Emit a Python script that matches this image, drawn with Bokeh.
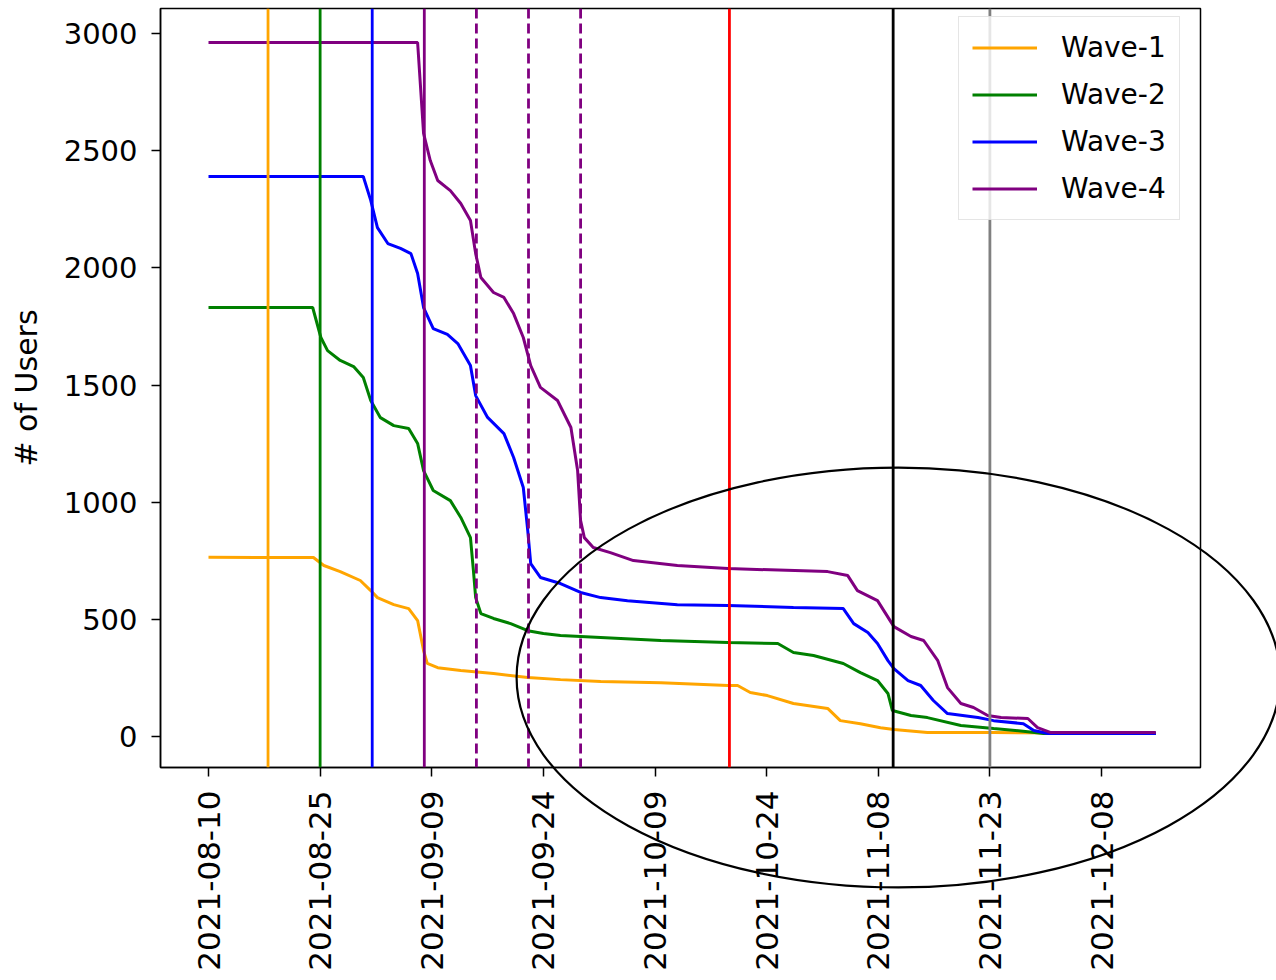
import math
import numpy as np
import pandas as pd
from bokeh.plotting import figure
from bokeh.layouts import column
from bokeh.models import (Range1d, FixedTicker, DatetimeTickFormatter, Span,
                          Legend, LegendItem)
from bokeh.embed import file_html
from bokeh.resources import INLINE

# ---------------- data ----------------
start_date = "2021-08-10"

w1_days = [0, 14.1, 15.5, 17.7, 20.4, 21.8, 22.7, 24.9, 26.9, 28.1, 28.9, 29.4, 30.8, 33.9,
           38.3, 42.9, 47.3, 52.7, 60.8, 69.8, 71.1, 72.8, 75.1, 78.6, 83.2, 84.9, 87.6,
           90.3, 92.1, 96.6, 105.5, 127.3]
w1_vals = [765, 764, 730, 704, 666, 623, 593, 563, 546, 495, 367, 312, 294, 282,
           269, 252, 243, 235, 230, 218, 218, 188, 175, 141, 120, 68, 55,
           38, 30, 17, 17, 13]

w2_days = [0, 14.0, 15.1, 16.0, 17.7, 19.5, 20.8, 21.8, 23.1, 24.9, 26.9, 28.1, 28.9, 30.2,
           32.5, 33.9, 35.2, 35.6, 35.9, 36.6, 38.3, 40.6, 42.9, 45.0, 47.3, 52.7, 60.8,
           69.8, 76.5, 78.6, 81.3, 85.3, 87.6, 89.9, 91.3, 91.9, 94.4, 96.6, 101.1, 105.5,
           110.1, 112.2, 127.3]
w2_vals = [1831, 1831, 1703, 1647, 1605, 1579, 1532, 1434, 1361, 1327, 1315, 1251, 1135, 1050,
           1007, 935, 849, 708, 593, 525, 504, 482, 452, 440, 431, 423, 410,
           401, 397, 359, 346, 312, 273, 239, 184, 111, 90, 81, 47, 34,
           21, 13, 13]

w3_days = [0, 20.8, 21.8, 22.7, 24.1, 25.8, 27.2, 28.1, 28.9, 30.2, 32.1, 33.5, 35.2, 35.9,
           37.5, 39.7, 41.0, 42.3, 42.9, 43.3, 44.6, 47.3, 50.0, 52.7, 56.3, 63.0, 69.8,
           78.6, 85.3, 86.7, 88.6, 89.9, 91.3, 92.1, 94.0, 95.7, 97.4, 99.3, 103.4, 105.5,
           109.5, 110.9, 112.8, 127.3]
w3_vals = [2390, 2390, 2288, 2172, 2104, 2083, 2061, 1976, 1831, 1741, 1716, 1677, 1583, 1455,
           1362, 1293, 1191, 1063, 879, 738, 679, 653, 615, 593, 580, 563, 559,
           551, 546, 482, 444, 397, 324, 290, 239, 218, 154, 98, 81, 68,
           55, 26, 13, 13]

w4_days = [0, 28.1, 28.9, 29.8, 30.8, 32.5, 33.9, 35.2, 35.9, 36.6, 38.3, 39.7, 41.0, 42.3,
           43.3, 44.6, 46.9, 48.7, 49.6, 50.0, 50.5, 51.7, 54.0, 57.1, 63.0, 69.8, 83.2,
           85.9, 87.2, 89.9, 92.1, 94.4, 96.1, 98.0, 99.3, 101.1, 102.8, 104.7, 106.5,
           110.1, 111.4, 113.2, 127.3]
w4_vals = [2962, 2962, 2574, 2458, 2373, 2330, 2275, 2202, 2061, 1959, 1895, 1874, 1805, 1703,
           1583, 1490, 1434, 1319, 1135, 922, 849, 807, 785, 751, 730, 717, 704,
           687, 623, 580, 469, 427, 410, 324, 209, 141, 124, 90, 81,
           77, 38, 17, 17]

series_names = ["Wave-1", "Wave-2", "Wave-3", "Wave-4"]

event_dates = ["2021-08-18", "2021-08-25", "2021-09-01", "2021-09-08", "2021-09-15",
               "2021-09-22", "2021-09-29", "2021-10-19", "2021-11-10", "2021-11-23"]

x_tick_labels = ["2021-08-10", "2021-08-25", "2021-09-09", "2021-09-24", "2021-10-09",
                 "2021-10-24", "2021-11-08", "2021-11-23", "2021-12-08"]
y_ticks = [0, 500, 1000, 1500, 2000, 2500, 3000]

# highlight ellipse (centre as day offset / value, half-axes in days / users)
ell_center_day = 92.7
ell_center_val = 252
ell_rx_days = 51.3
ell_ry_val = 896

# ---------------- styles / layout ----------------
series_colors = ["orange", "green", "blue", "purple"]
event_colors = ["orange", "green", "blue", "purple", "purple", "purple", "purple",
                "red", "black", "gray"]
event_dash = ["solid"] * 4 + ["10 5"] * 3 + ["solid"] * 3

FONT = "DejaVu Sans"
W, H = 1276, 980
BL, BR, BT, BB = 160, 76, 8, 213       # borders around the plotting frame
FW, FH = W - BL - BR, H - BT - BB

def ms(ts):
    return pd.Timestamp(ts).value / 1e6

base = pd.Timestamp(start_date)

def to_dates(days):
    return [base + pd.Timedelta(days=float(d)) for d in days]

x0 = ms(base - pd.Timedelta(days=6.45))
x1 = ms(base + pd.Timedelta(days=133.3))
y0, y1 = -132, 3107

p = figure(width=W, height=H, x_axis_type="datetime",
           output_backend="svg", toolbar_location=None,
           min_border_left=BL, min_border_right=BR,
           min_border_top=BT, min_border_bottom=BB)
p.frame_align = False
p.x_range = Range1d(start=x0, end=x1)
p.y_range = Range1d(start=y0, end=y1)

renderers = []
for days, vals, col in zip([w1_days, w2_days, w3_days, w4_days],
                           [w1_vals, w2_vals, w3_vals, w4_vals], series_colors):
    r = p.line(to_dates(days), vals, line_color=col, line_width=3)
    renderers.append(r)

for d, c, dash in zip(event_dates, event_colors, event_dash):
    p.add_layout(Span(location=ms(d), dimension="height", line_color=c,
                      line_width=2.8, line_dash=dash))

# axes
p.xaxis.ticker = FixedTicker(ticks=[ms(s) for s in x_tick_labels])
fmt = "%Y-%m-%d"
p.xaxis.formatter = DatetimeTickFormatter(days=fmt, months=fmt, years=fmt, hours=fmt,
                                          hourmin=fmt, minutes=fmt, minsec=fmt,
                                          seconds=fmt, milliseconds=fmt, microseconds=fmt)
p.xaxis.major_label_orientation = math.pi / 2
p.yaxis.ticker = FixedTicker(ticks=y_ticks)
p.yaxis.axis_label = "# of Users"

for ax in (p.xaxis, p.yaxis):
    ax.major_label_text_font = FONT
    ax.major_label_text_color = "black"
    ax.axis_line_color = "black"
    ax.axis_line_width = 1.5
    ax.major_tick_line_color = "black"
    ax.major_tick_line_width = 1.5
    ax.major_tick_out = 9
    ax.major_tick_in = 0
    ax.minor_tick_line_color = None
    ax.major_label_standoff = 14
p.xaxis.major_label_text_font_size = "31px"
p.yaxis.major_label_text_font_size = "29px"
p.yaxis.axis_label_text_font = FONT
p.yaxis.axis_label_text_font_size = "30px"
p.yaxis.axis_label_text_font_style = "normal"
p.yaxis.axis_label_text_color = "black"
p.yaxis.axis_label_standoff = 17

p.xgrid.grid_line_color = None
p.ygrid.grid_line_color = None
p.outline_line_color = "black"
p.outline_line_width = 1.5
p.background_fill_color = "white"
p.border_fill_color = "white"

legend = Legend(items=[LegendItem(label=n, renderers=[r]) for n, r in zip(series_names, renderers)],
                location=(798, 547), label_text_font=FONT, label_text_font_size="28px",
                label_text_color="black",
                glyph_width=65, glyph_height=35, label_height=35, label_standoff=24,
                spacing=12, padding=13, margin=0,
                border_line_color="#cccccc", border_line_width=1.5,
                background_fill_color="white", background_fill_alpha=0.8)
p.add_layout(legend)

# ---- transparent overlay covering the whole canvas, same data mapping, for the ellipse ----
kx = (x1 - x0) / FW
ky = (y1 - y0) / FH
ov = figure(width=W, height=H, output_backend="svg", toolbar_location=None,
            x_axis_location=None, y_axis_location=None,
            min_border=0, min_border_left=0, min_border_right=0,
            min_border_top=0, min_border_bottom=0,
            x_range=Range1d(x0 - BL * kx, x1 + BR * kx),
            y_range=Range1d(y0 - BB * ky, y1 + BT * ky),
            styles={"position": "absolute", "top": "0px", "left": "0px"})
ov.frame_align = False
ov.grid.grid_line_color = None
ov.outline_line_color = None
ov.background_fill_alpha = 0
ov.border_fill_alpha = 0
ov.background_fill_color = None
ov.border_fill_color = None
ov.ellipse(x=[ms(base + pd.Timedelta(days=ell_center_day))], y=[ell_center_val],
           width=[2 * ell_rx_days * 86400000.0], height=[2 * ell_ry_val],
           fill_alpha=0, line_color="black", line_width=2.2)

layout = column(p, ov, styles={"position": "relative"})
open("out.html", "w").write(file_html(layout, INLINE))
